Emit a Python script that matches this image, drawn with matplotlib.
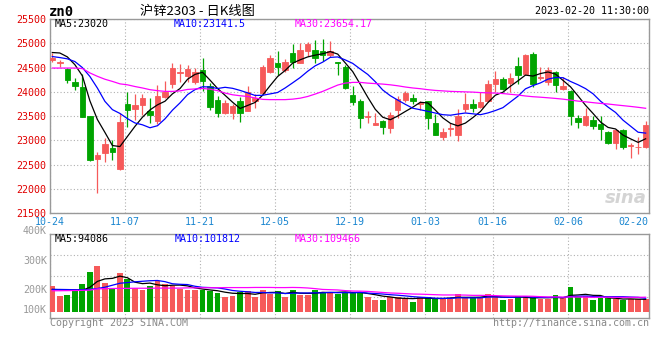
import numpy as np
import matplotlib
matplotlib.use("Agg")
import matplotlib.pyplot as plt

# 沪锌2303 日K线 (2022-10-24 .. 2023-02-20)
opens = [24660, 24590, 24475, 24200, 24110, 23497, 22612, 22748, 22850, 22415,
         23750, 23655, 23725, 23605, 23400, 23900, 24160, 24385, 24330, 24212,
         24440, 24115, 23840, 23555, 23560, 23810, 23610, 23820, 23975, 24418,
         24595, 24450, 24810, 24595, 24840, 24855, 24840, 24750, 24615, 24510,
         23938, 23815, 23490, 23315, 23390, 23255, 23630, 23828, 23873, 23760,
         23808, 23357, 23074, 23230, 23121, 23648, 23749, 23689, 23810, 24155,
         24270, 24182, 24540, 24371, 24777, 24290, 24202, 24405, 24054, 24013,
         23472, 23323, 23425, 23344, 23168, 22952, 23209, 22890, 22860, 22870]
highs = [24800, 24660, 24490, 24283, 24365, 23500, 22768, 23044, 23009, 23570,
         24005, 23955, 23955, 23870, 24150, 24220, 24590, 24570, 24560, 24487,
         24690, 24180, 23920, 23830, 23760, 23900, 24120, 23960, 24560, 24760,
         24840, 24680, 24990, 25010, 25030, 25060, 25090, 25050, 24620, 24556,
         24115, 23843, 23614, 23568, 23420, 23578, 23910, 24010, 23955, 23805,
         23820, 23547, 23256, 23357, 23641, 23980, 23844, 24000, 24236, 24425,
         24300, 24392, 24709, 24777, 24811, 24506, 24520, 24439, 24304, 24033,
         23526, 23662, 23506, 23493, 23188, 23236, 23236, 22938, 23073, 23391]
lows = [24620, 24520, 24180, 24045, 23480, 22575, 21924, 22562, 22600, 22395,
        23270, 23430, 23530, 23360, 23330, 23880, 24080, 24210, 24200, 24160,
        24020, 23620, 23490, 23540, 23440, 23385, 23600, 23665, 23950, 24382,
        24350, 24400, 24500, 24590, 24730, 24600, 24640, 24720, 24350, 24060,
        23730, 23247, 23363, 23310, 23125, 23158, 23470, 23800, 23750, 23630,
        23230, 23107, 23006, 23100, 22986, 23594, 23594, 23662, 23797, 24000,
        24033, 24000, 24169, 24338, 24101, 24236, 24135, 24000, 24033, 23324,
        23256, 23290, 23236, 23000, 22918, 22830, 22830, 22648, 22715, 22850]
closes = [24700, 24625, 24250, 24125, 23490, 22590, 22700, 22927, 22768, 23385,
          23630, 23735, 23873, 23515, 23910, 24000, 24500, 24415, 24470, 24414,
          24215, 23690, 23560, 23765, 23705, 23570, 24000, 23870, 24510, 24692,
          24510, 24620, 24622, 24855, 24990, 24692, 24760, 24848, 24600, 24085,
          23790, 23460, 23510, 23360, 23271, 23527, 23845, 23978, 23805, 23772,
          23462, 23107, 23175, 23250, 23506, 23749, 23675, 23797, 24169, 24270,
          24053, 24290, 24351, 24763, 24169, 24310, 24452, 24135, 24115, 23506,
          23371, 23493, 23290, 23236, 22952, 23209, 22857, 22905, 22875, 23323]

ma5 = [24810, 24800, 24720, 24560, 24330, 23816, 23431, 23166, 22895, 22874,
       23082, 23289, 23478, 23628, 23733, 23807, 23960, 24068, 24259, 24360,
       24403, 24241, 24070, 23929, 23787, 23658, 23720, 23782, 23931, 24128,
       24316, 24440, 24591, 24660, 24719, 24756, 24784, 24829, 24778, 24597,
       24417, 24157, 23889, 23641, 23478, 23426, 23503, 23596, 23685, 23785,
       23772, 23625, 23464, 23353, 23300, 23357, 23471, 23595, 23779, 23932,
       23993, 24116, 24227, 24345, 24325, 24377, 24409, 24366, 24236, 24104,
       23916, 23724, 23555, 23379, 23268, 23236, 23109, 23032, 22960, 23034]
ma10 = [24727, 24706, 24680, 24624, 24500, 24317, 24078, 23805, 23634, 23556,
        23449, 23360, 23322, 23261, 23303, 23444, 23624, 23773, 23943, 24046,
        24105, 24100, 24069, 24094, 24073, 24030, 23980, 23926, 23930, 23958,
        23987, 24080, 24186, 24295, 24424, 24536, 24612, 24710, 24719, 24658,
        24586, 24470, 24359, 24210, 24038, 23921, 23830, 23743, 23663, 23632,
        23599, 23564, 23530, 23519, 23543, 23565, 23548, 23530, 23566, 23616,
        23675, 23793, 23911, 24062, 24129, 24185, 24262, 24296, 24291, 24214,
        24146, 24067, 23960, 23808, 23686, 23576, 23416, 23293, 23169, 23151]
ma30 = [24490, 24490, 24490, 24490, 24480, 24390, 24320, 24260, 24215, 24165,
        24145, 24110, 24080, 24045, 24025, 24010, 24010, 24020, 24050, 24060,
        24070, 24055, 24025, 23975, 23940, 23920, 23905, 23875, 23845, 23840,
        23840, 23840, 23850, 23870, 23905, 23955, 24010, 24075, 24140, 24180,
        24195, 24195, 24180, 24170, 24160, 24145, 24125, 24100, 24080, 24065,
        24045, 24030, 24020, 24010, 24005, 24000, 23995, 23985, 23980, 23975,
        23965, 23950, 23935, 23915, 23900, 23890, 23878, 23865, 23850, 23830,
        23810, 23795, 23778, 23762, 23750, 23732, 23716, 23700, 23682, 23662]

# 成交量 (K)
volumes = [195, 119, 126, 159, 210, 304, 347, 220, 177, 296,
           245, 177, 164, 197, 233, 210, 195, 172, 164, 160,
           164, 159, 144, 109, 121, 152, 159, 114, 164, 134,
           159, 114, 164, 126, 126, 164, 152, 152, 134, 144,
           144, 152, 109, 89, 89, 114, 109, 101, 76, 109,
           109, 101, 101, 94, 134, 109, 101, 109, 134, 119,
           89, 94, 119, 119, 101, 94, 94, 126, 109, 190,
           109, 119, 89, 101, 101, 94, 89, 94, 94, 94]
vol_ma5 = [168, 166, 165, 165, 162, 184, 229, 248, 252, 269,
           257, 223, 212, 216, 203, 196, 200, 201, 195, 180,
           171, 164, 158, 147, 139, 137, 137, 131, 142, 145,
           146, 137, 147, 139, 138, 139, 146, 144, 146, 149,
           145, 145, 137, 128, 117, 111, 102, 100, 98, 102,
           101, 99, 99, 103, 108, 108, 108, 109, 117, 114,
           110, 109, 111, 108, 104, 105, 105, 107, 105, 123,
           126, 131, 123, 122, 104, 101, 95, 96, 94, 93]
vol_ma10 = [168, 168, 167, 166, 166, 168, 175, 185, 200, 215,
            220, 226, 230, 234, 236, 227, 211, 207, 205, 192,
            184, 182, 180, 171, 160, 154, 150, 145, 145, 142,
            142, 137, 139, 141, 141, 142, 142, 146, 143, 144,
            142, 146, 140, 137, 133, 128, 124, 119, 113, 109,
            106, 101, 100, 100, 105, 104, 104, 104, 110, 111,
            109, 108, 110, 113, 109, 108, 107, 109, 106, 114,
            116, 118, 115, 113, 113, 113, 113, 110, 108, 101]
vol_ma30 = [158, 158, 159, 160, 161, 163, 172, 174, 175, 176,
            176, 177, 177, 177, 178, 178, 178, 178, 180, 180,
            181, 181, 181, 182, 182, 182, 182, 183, 183, 183,
            182, 182, 183, 182, 179, 174, 168, 166, 164, 159,
            156, 155, 153, 149, 145, 141, 139, 136, 133, 132,
            130, 128, 126, 126, 126, 125, 123, 123, 122, 121,
            119, 118, 117, 117, 116, 113, 111, 111, 110, 111,
            110, 109, 108, 109, 109, 108, 108, 108, 108, 109]

date_labels = ["10-24", "11-07", "11-21", "12-05", "12-19", "01-03", "01-16", "02-06", "02-20"]
date_index = [0, 10, 20, 30, 40, 50, 59, 69, 79]
price_ticks = [21500, 22000, 22500, 23000, 23500, 24000, 24500, 25000, 25500]
vol_tick_labels = ["400K", "300K", "200K", "100K"]

W, H = 660, 360
MONO = "DejaVu Sans Mono"
UP, DOWN = "#f65a5a", "#00a400"
GRID = dict(color="#b0b0b0", linestyle=(0, (1, 2)), linewidth=0.8)


def box(l, t, r, b):
    return [l / W, 1 - b / H, (r - l) / W, (b - t) / H]


def ftext(x, y, s, **kw):
    kw.setdefault("family", MONO)
    kw.setdefault("size", 7.2)
    kw.setdefault("va", "center")
    fig.text(x / W, 1 - y / H, s, **kw)


def frame(ax):
    for sp in ax.spines.values():
        sp.set_color("#999999")
        sp.set_linewidth(1)
    ax.tick_params(length=0)


fig = plt.figure(figsize=(6.6, 3.6), dpi=100)
ax = fig.add_axes(box(50, 19, 649, 213.3))
axv = fig.add_axes(box(50, 234, 649, 318))

x = np.arange(len(closes))
o, h, l, c = map(np.array, (opens, highs, lows, closes))
cols = [UP if cc >= oo else DOWN for oo, cc in zip(o, c)]
xlim = (-0.31, 79.45)

# K线
ax.vlines(x, l, h, colors=cols, linewidth=0.9, zorder=3)
ax.bar(x, np.abs(c - o), bottom=np.minimum(o, c), width=0.72,
       color=cols, edgecolor=cols, linewidth=0.6, zorder=3)
ax.plot(x, ma5, color="black", lw=0.9, zorder=4)
ax.plot(x, ma10, color="#0000ff", lw=0.9, zorder=4)
ax.plot(x, ma30, color="#ff00ff", lw=0.9, zorder=4)

ax.set_xlim(*xlim)
ax.set_ylim(price_ticks[0], price_ticks[-1])
ax.set_yticks(price_ticks)
ax.set_yticklabels([str(p) for p in price_ticks], family=MONO, size=7.2, color="#e00000")
xt = [max(i - 0.35, -0.3) for i in date_index[:-1]] + [xlim[1] - 0.02]
ax.set_xticks(xt)
ax.set_xticklabels(date_labels, family=MONO, size=7.2, color="#1a86d0")
ax.get_xticklabels()[-1].set_ha("right")
ax.tick_params(axis="y", pad=2.5)
ax.tick_params(axis="x", pad=3)
ax.grid(True, **GRID)
frame(ax)
ax.text(0.962, 0.08, "sina", transform=ax.transAxes, ha="center", va="center",
        size=13, style="italic", weight="bold", color="#d4d4d4", zorder=1)

# 成交量
vol = np.array(volumes) * 1000
axv.bar(x, vol, width=0.78, color=cols, zorder=3)
axv.plot(x, np.array(vol_ma5) * 1000, color="black", lw=0.9, zorder=4)
axv.plot(x, np.array(vol_ma10) * 1000, color="#0000ff", lw=0.9, zorder=4)
axv.plot(x, np.array(vol_ma30) * 1000, color="#ff00ff", lw=0.9, zorder=4)
axv.set_xlim(*xlim)
vlo, vhi = -49000, 589000
axv.set_ylim(vlo, vhi)
axv.set_xticks(xt)
axv.set_xticklabels([])
axv.set_yticks(np.linspace(vlo, vhi, 5)[1:-1])
axv.set_yticklabels([])
axv.grid(True, **GRID)
frame(axv)

# 文字
ftext(49, 11.5, "zn0", size=10, weight="bold")
ftext(140, 11, "沪锌2303 - 日K线图", family=["Noto Sans CJK SC", "DejaVu Sans"], size=9.5)
ftext(649, 11.5, "2023-02-20 11:30:00", ha="right")
ftext(55, 24, "MA5:23020", color="black")
ftext(174, 24, "MA10:23141.5", color="#0000ff")
ftext(295, 24, "MA30:23654.17", color="#ff00ff")
ftext(55, 238.5, "MA5:94086", color="black")
ftext(175, 238.5, "MA10:101812", color="#0000ff")
ftext(295, 238.5, "MA30:109466", color="#ff00ff")
for lab, yy in zip(vol_tick_labels, [231, 261, 290, 310]):
    ftext(47, yy, lab, ha="right", color="#999999")
ftext(50, 323.5, "Copyright 2023 SINA.COM", color="#888888")
ftext(649, 323.5, "http://finance.sina.com.cn", ha="right", color="#888888")

fig.savefig("out.png", dpi=100)
